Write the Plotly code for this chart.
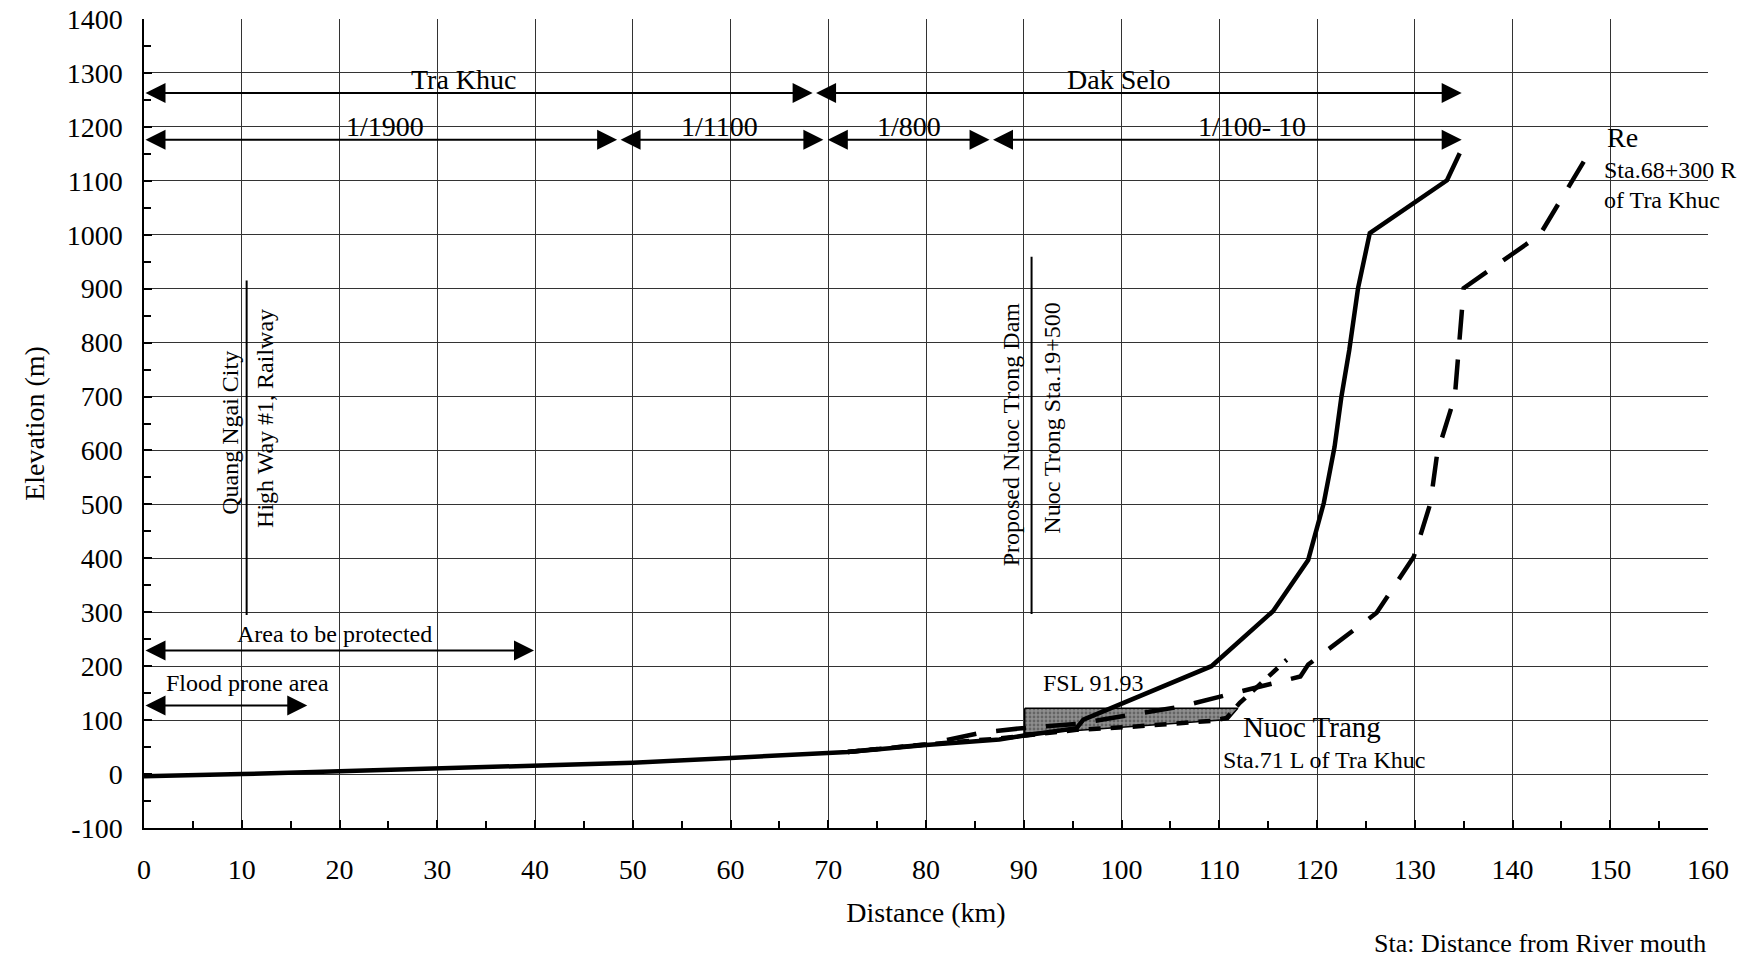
import plotly.graph_objects as go

# ---------------- data ----------------
main_km = [0, 5, 10, 20, 30, 40, 50, 60, 67, 72, 80, 87.5, 89.9, 95.4, 96.1, 109.2, 115.5, 119.1, 120.7, 121.8, 122.5, 123.3, 124.2, 125.4, 133.3, 134.6]
main_elev = [-4, -3, 0, 5, 11, 16, 21, 30, 36, 41, 54, 64, 71, 85, 101, 200, 302, 397, 503, 607, 700, 786, 901, 1003, 1101, 1151]

re_km = [72, 80, 85.7, 89.8, 95.4, 106.0, 110.2, 115.4, 118.3, 119.1, 126.1, 129.9, 131.6, 132.3, 134.1, 134.8, 135.0, 142.8, 147.8]
re_elev = [41, 55, 77, 85, 93, 125, 144, 169, 181, 203, 299, 403, 502, 595, 700, 854, 901, 1000, 1151]

nt_km = [72, 80, 87.5, 95.4, 100.5, 106.3, 109.4, 110.75, 112.1, 116.9]
nt_elev = [41, 55, 66, 82, 87, 94.5, 99, 104, 132, 212]

fsl_km = [90.1, 111.9, 110.9, 100.5, 95.4, 90.1, 90.1]
fsl_elev = [122, 122, 101, 88, 81, 76, 122]

y_ticks = [-100, 0, 100, 200, 300, 400, 500, 600, 700, 800, 900, 1000, 1100, 1200, 1300, 1400]
y_tick_labels = ["-100", "0", "100", "200", "300", "400", "500", "600", "700", "800",
                 "900", "1000", "1100", "1200", "1300", "1400"]

# reach arrows: (start km, end km, elevation, label, label km, label elev)
reach_arrows = [
    (0, 68.4, 1263, "Tra Khuc", 32.7, 1288),
    (68.6, 134.8, 1263, "Dak Selo", 99.7, 1288),
    (0, 48.4, 1176, "1/1900", 24.7, 1200),
    (48.6, 69.5, 1176, "1/1100", 58.9, 1200),
    (69.8, 86.5, 1176, "1/800", 78.3, 1200),
    (86.7, 134.8, 1176, "1/100- 10", 113.3, 1200),
]
area_arrows = [
    (0, 39.9, 229, "Area to be protected", 19.5, 259),
    (0, 16.7, 127, "Flood prone area", 10.6, 169),
]
# landmark vertical lines: (km, bottom elev, top elev)
landmarks = [(10.5, 295, 915), (90.8, 297, 959)]
vert_texts = [
    ("Quang Ngai City", 8.86, 632),
    ("High Way #1, Railway", 12.3, 659),
    ("Proposed Nuoc Trong Dam", 88.7, 630),
    ("Nuoc Trong Sta.19+500", 92.8, 661),
]

FONT = "Liberation Serif"

fig = go.Figure()

fig.add_trace(go.Scatter(
    x=fsl_km, y=fsl_elev, mode="lines", fill="toself",
    line=dict(color="black", width=1.5),
    fillcolor="#808080",
    fillpattern=dict(shape=".", fgcolor="#3a3a3a", bgcolor="#8f8f8f", size=4, solidity=0.4),
    hoverinfo="skip", showlegend=False))

fig.add_trace(go.Scatter(x=nt_km, y=nt_elev, mode="lines",
                         line=dict(color="black", width=4.5, dash="12px,10px"),
                         showlegend=False))
fig.add_trace(go.Scatter(x=re_km, y=re_elev, mode="lines",
                         line=dict(color="black", width=4.5, dash="30px,20px"),
                         showlegend=False))
fig.add_trace(go.Scatter(x=main_km, y=main_elev, mode="lines",
                         line=dict(color="black", width=4.5),
                         showlegend=False))

for km, y0, y1 in landmarks:
    fig.add_trace(go.Scatter(x=[km, km], y=[y0, y1], mode="lines",
                             line=dict(color="black", width=2), showlegend=False,
                             hoverinfo="skip"))

annotations = []
for x0, x1, y, label, lx, ly in reach_arrows + area_arrows:
    annotations.append(dict(x=x1, y=y, ax=x0, ay=y, xref="x", yref="y", axref="x", ayref="y",
                            text="", showarrow=True, arrowhead=2, arrowside="end+start",
                            arrowsize=2, arrowwidth=2, arrowcolor="black",
                            standoff=0, startstandoff=0))
for x0, x1, y, label, lx, ly in reach_arrows:
    annotations.append(dict(x=lx, y=ly, xref="x", yref="y", text=label, showarrow=False,
                            font=dict(family=FONT, size=28, color="black")))
for x0, x1, y, label, lx, ly in area_arrows:
    annotations.append(dict(x=lx, y=ly, xref="x", yref="y", text=label, showarrow=False,
                            font=dict(family=FONT, size=24, color="black")))
for label, lx, ly in vert_texts:
    annotations.append(dict(x=lx, y=ly, xref="x", yref="y", text=label, showarrow=False,
                            textangle=-90, font=dict(family=FONT, size=24, color="black")))

annotations += [
    dict(x=91.8, y=169, xref="x", yref="y", text="FSL 91.93", showarrow=False, xanchor="left",
         font=dict(family=FONT, size=24, color="black")),
    dict(x=149.5, y=1180, xref="x", yref="y", text="Re", showarrow=False, xanchor="left",
         font=dict(family=FONT, size=28, color="black")),
    dict(x=149.2, y=1120, xref="x", yref="y", text="Sta.68+300 R", showarrow=False, xanchor="left",
         font=dict(family=FONT, size=24, color="black")),
    dict(x=149.2, y=1065, xref="x", yref="y", text="of Tra Khuc", showarrow=False, xanchor="left",
         font=dict(family=FONT, size=24, color="black")),
    dict(x=119.5, y=88, xref="x", yref="y", text="Nuoc Trang", showarrow=False,
         font=dict(family=FONT, size=29, color="black")),
    dict(x=120.7, y=26.5, xref="x", yref="y", text="Sta.71 L of Tra Khuc", showarrow=False,
         font=dict(family=FONT, size=24, color="black")),
    dict(x=1.0, y=-0.143, xref="paper", yref="paper", text="Sta: Distance from River mouth",
         showarrow=False, xanchor="right", yanchor="middle",
         font=dict(family=FONT, size=26, color="black")),
]

axis_common = dict(
    showgrid=True, gridcolor="#333333", gridwidth=1,
    showline=True, linecolor="black", linewidth=1.5,
    ticks="inside", ticklen=8, tickcolor="black", tickwidth=1.5,
    tickfont=dict(family=FONT, size=28, color="black"),
    zeroline=False, automargin=False, ticklabeloverflow="allow",
)

fig.update_layout(
    width=1753, height=970,
    margin=dict(l=144, r=45, t=19, b=142),
    paper_bgcolor="white", plot_bgcolor="white",
    showlegend=False,
    annotations=annotations,
    xaxis=dict(range=[0, 160], dtick=10, tick0=0,
               minor=dict(dtick=5, ticks="inside", ticklen=7, tickcolor="black", showgrid=False),
               title=dict(text="Distance (km)", font=dict(family=FONT, size=28, color="black"), standoff=18),
               ticklabelstandoff=16,
               **axis_common),
    yaxis=dict(range=[-100, 1400], tickmode="array", tickvals=y_ticks, ticktext=y_tick_labels,
               minor=dict(dtick=50, ticks="inside", ticklen=7, tickcolor="black", showgrid=False),
               title=dict(text="Elevation (m)", font=dict(family=FONT, size=28, color="black"), standoff=14),
               ticklabelstandoff=14,
               **axis_common),
)

fig.write_html("out.html", config={"displayModeBar": False},
               post_script="document.body.style.margin='0';")
